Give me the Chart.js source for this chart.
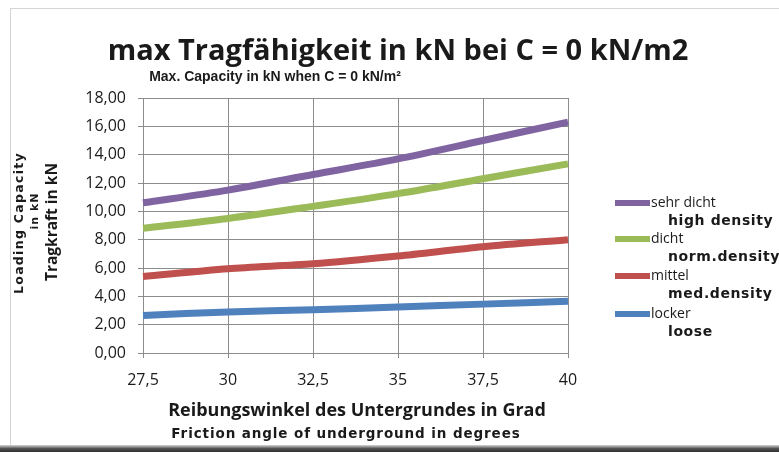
<!DOCTYPE html>
<html>
<head>
<meta charset="utf-8">
<script src="https://cdn.jsdelivr.net/npm/chart.js@4"></script>
<style>
  html, body { margin: 0; padding: 0; background: #ffffff; }
  #wrap { position: relative; width: 779px; height: 452px; overflow: hidden; }
  #frame { position: absolute; left: 10px; top: 8px; width: 800px; height: 439px; border: 1px solid #d4d4d4; box-sizing: border-box; }
  #shadow { position: absolute; left: 0; top: 445px; width: 779px; height: 7px; background: linear-gradient(#d8d8d8, #555 50%, #2e2e2e); }
  canvas { position: absolute; left: 0; top: 0; }
</style>
</head>
<body>
<div id="wrap">
  <div id="frame"></div>
  <div id="shadow"></div>
  <canvas id="chart" width="779" height="452"></canvas>
</div>
<script>
// friction angle in degrees
const angles = ['27,5', '30', '32,5', '35', '37,5', '40'];

// load capacity in kN
const sehrDicht = [10.6, 11.5, 12.6, 13.7, 15.0, 16.3];
const dicht = [8.8, 9.5, 10.35, 11.25, 12.3, 13.35];
const mittel = [5.4, 5.95, 6.3, 6.85, 7.5, 8.0];
const locker = [2.65, 2.9, 3.05, 3.25, 3.45, 3.65];

const seriesNames = ['sehr dicht', 'dicht', 'mittel', 'locker'];
const seriesSubNames = ['high density', 'norm.density', 'med.density', 'loose'];
const seriesColors = ['#8064A2', '#9BBB59', '#C0504D', '#4F81BD'];

const titleText = 'max Tragfähigkeit in kN bei C = 0 kN/m2';
const subtitleText = 'Max. Capacity in kN when C = 0 kN/m²';

// rotated text helper for the y axis title
function vText(ctx, text, x, y, font, spacing) {
    ctx.save();
    ctx.translate(x, y);
    ctx.rotate(-Math.PI / 2);
    ctx.font = font;
    ctx.letterSpacing = spacing + 'px';
    ctx.fillText(text, 0, 0);
    ctx.restore();
}

// Draws titles, axis titles and the two-line legend
const textPlugin = {
    id: 'texts',
    afterDraw(chart) {
        const ctx = chart.ctx;
        ctx.save();
        ctx.fillStyle = '#1a1a1a';
        ctx.textBaseline = 'middle';

        // titles
        ctx.textAlign = 'center';
        ctx.font = 'bold 29px "Open Sans"';
        ctx.fillText(titleText, 398, 52);
        ctx.font = 'bold 14px "Liberation Sans"';
        ctx.fillText(subtitleText, 275, 77);

        // x axis title
        ctx.font = 'bold 18px "Open Sans"';
        ctx.fillText('Reibungswinkel des Untergrundes in Grad', 357, 411);
        ctx.font = 'bold 13.5px "DejaVu Sans"';
        ctx.letterSpacing = '0.9px';
        ctx.fillText('Friction angle of underground in degrees', 346, 434);
        ctx.letterSpacing = '0px';

        // y axis title
        vText(ctx, 'Loading Capacity', 20, 223, 'bold 12.5px "DejaVu Sans"', 1.3);
        vText(ctx, 'in kN', 35, 211, 'bold 11px "DejaVu Sans"', 1);
        vText(ctx, 'Tragkraft in kN', 53, 222, 'bold 15.5px "Open Sans"', 0);

        // legend
        const legendTop = [203, 239, 276, 314];
        chart.data.datasets.forEach((ds, i) => {
            const y = legendTop[i];
            ctx.strokeStyle = ds.borderColor;
            ctx.lineWidth = 6;
            ctx.beginPath();
            ctx.moveTo(615, y);
            ctx.lineTo(650, y);
            ctx.stroke();
            ctx.textAlign = 'left';
            ctx.fillStyle = '#1a1a1a';
            ctx.font = '14px "Open Sans"';
            ctx.fillText(seriesNames[i], 651, y);
            ctx.font = 'bold 14px "DejaVu Sans"';
            ctx.letterSpacing = '0.6px';
            ctx.fillText(seriesSubNames[i], 668, y + 18);
            ctx.letterSpacing = '0px';
        });
        ctx.restore();
    }
};

const makeSet = (label, data, color) => ({
    label: label,
    data: data,
    borderColor: color,
    backgroundColor: color,
    borderWidth: 7,
    pointRadius: 0,
    tension: 0.3,
    fill: false
});

new Chart(document.getElementById('chart'), {
    type: 'line',
    data: {
        labels: angles,
        datasets: [
            makeSet(seriesNames[0], sehrDicht, seriesColors[0]),
            makeSet(seriesNames[1], dicht, seriesColors[1]),
            makeSet(seriesNames[2], mittel, seriesColors[2]),
            makeSet(seriesNames[3], locker, seriesColors[3])
        ]
    },
    options: {
        responsive: false,
        animation: false,
        layout: { padding: { left: 0, top: 98, right: 211, bottom: 0 } },
        plugins: {
            legend: { display: false },
            tooltip: { enabled: false }
        },
        scales: {
            x: {
                offset: false,
                grid: { color: '#8c8c8c', lineWidth: 1, tickLength: 5 },
                border: { color: '#8c8c8c' },
                ticks: {
                    color: '#1a1a1a',
                    font: { family: 'Open Sans', size: 16 },
                    padding: 13,
                    maxRotation: 0
                },
                afterFit: (scale) => { scale.height = 99; }
            },
            y: {
                min: 0,
                max: 18,
                grid: { color: '#8c8c8c', lineWidth: 1, tickLength: 5 },
                border: { color: '#8c8c8c' },
                ticks: {
                    stepSize: 2,
                    color: '#1a1a1a',
                    font: { family: 'Open Sans', size: 16 },
                    padding: 12,
                    callback: (v) => v.toFixed(2).replace('.', ',')
                },
                afterFit: (scale) => { scale.width = 143; }
            }
        }
    },
    plugins: [textPlugin]
});
</script>
</body>
</html>
